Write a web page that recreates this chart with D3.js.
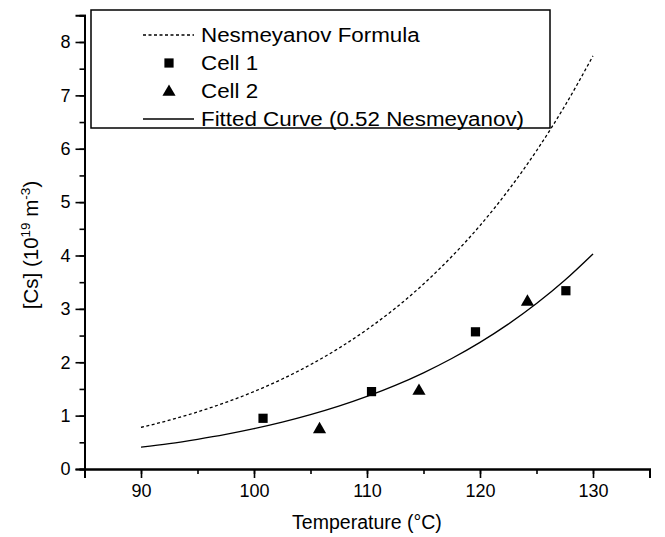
<!DOCTYPE html>
<html>
<head>
<meta charset="utf-8">
<script src="https://cdn.jsdelivr.net/npm/d3@7"></script>
<style>
  html, body { margin: 0; padding: 0; background: #fff; }
  svg { display: block; }
  text { font-family: "Liberation Sans", Arial, Helvetica, sans-serif; fill: #000; }
</style>
</head>
<body>
<svg id="chart" width="665" height="537"></svg>
<script>
// ---- data ----
const curveTemps   = [90, 92.5, 95, 97.5, 100, 102.5, 105, 107.5, 110, 112.5, 115, 117.5, 120, 122.5, 125, 127.5, 130];
const nesmeyanov   = [0.78, 0.914, 1.069, 1.247, 1.451, 1.686, 1.955, 2.262, 2.613, 3.011, 3.465, 3.980, 4.561, 5.220, 5.962, 6.800, 7.74];
const fittedCurve  = [0.41, 0.475, 0.556, 0.648, 0.755, 0.877, 1.017, 1.176, 1.359, 1.566, 1.802, 2.070, 2.372, 2.714, 3.100, 3.536, 4.03];
const cell1Temps   = [100.8, 110.4, 119.6, 127.6];
const cell1Values  = [0.95, 1.45, 2.57, 3.34];
const cell2Temps   = [105.8, 114.6, 124.2];
const cell2Values  = [0.76, 1.48, 3.15];
const xTicks       = [90, 100, 110, 120, 130];
const yTicks       = [0, 1, 2, 3, 4, 5, 6, 7, 8];
const legendLabels = ["Nesmeyanov Formula", "Cell 1", "Cell 2", "Fitted Curve (0.52 Nesmeyanov)"];

// ---- layout ----
const svg = d3.select("#chart");
const x = d3.scaleLinear().domain([85, 135]).range([84.5, 649.5]);
const y = d3.scaleLinear().domain([0, 8.5]).range([469, 15.3]);

// curves
const line = d3.line().x(d => x(d[0])).y(d => y(d[1])).curve(d3.curveMonotoneX);
svg.append("path")
  .datum(curveTemps.map((t, i) => [t, nesmeyanov[i]]))
  .attr("d", line).attr("fill", "none").attr("stroke", "#000")
  .attr("stroke-width", 1.3).attr("stroke-dasharray", "3,2.5");
svg.append("path")
  .datum(curveTemps.map((t, i) => [t, fittedCurve[i]]))
  .attr("d", line).attr("fill", "none").attr("stroke", "#000")
  .attr("stroke-width", 1.3);

// markers
const sq = d3.symbol().type(d3.symbolSquare).size(85);
const tri = d3.symbol().type(d3.symbolTriangle).size(75);
svg.append("g").selectAll("path").data(cell1Temps.map((t, i) => [t, cell1Values[i]]))
  .join("path").attr("d", sq)
  .attr("transform", d => `translate(${x(d[0])},${y(d[1])})`).attr("fill", "#000");
svg.append("g").selectAll("path").data(cell2Temps.map((t, i) => [t, cell2Values[i]]))
  .join("path").attr("d", tri)
  .attr("transform", d => `translate(${x(d[0])},${y(d[1]) + 1})`).attr("fill", "#000");

// axes
const xAxis = svg.append("g").attr("transform", `translate(0,${y(0)})`);
xAxis.call(d3.axisBottom(x).tickValues(d3.range(85, 135.1, 5)).tickSize(5).tickFormat(""));
xAxis.call(g => g.append("g").call(d3.axisBottom(x).tickValues(xTicks).tickSize(9).tickPadding(6)));
xAxis.selectAll(".domain").attr("stroke-width", 2).attr("stroke", "#000");
xAxis.selectAll(".tick line").attr("stroke-width", 1.6).attr("stroke", "#000");
xAxis.selectAll(".tick text").attr("font-size", 18).attr("font-family", "Liberation Sans, Arial, sans-serif");

const yAxis = svg.append("g").attr("transform", `translate(${x(85)},0)`);
yAxis.call(d3.axisLeft(y).tickValues(d3.range(0, 8.51, 0.5)).tickSize(5).tickFormat(""));
yAxis.call(g => g.append("g").call(d3.axisLeft(y).tickValues(yTicks).tickSize(9).tickPadding(5)));
yAxis.selectAll(".domain").attr("stroke-width", 2).attr("stroke", "#000");
yAxis.selectAll(".tick line").attr("stroke-width", 1.6).attr("stroke", "#000");
yAxis.selectAll(".tick text").attr("font-size", 18).attr("font-family", "Liberation Sans, Arial, sans-serif");

// axis titles
svg.append("text").attr("x", 367).attr("y", 529).attr("text-anchor", "middle")
  .attr("font-size", 19.5).text("Temperature (°C)");
const yt = svg.append("text").attr("transform", "translate(38,245) rotate(-90)")
  .attr("text-anchor", "middle").attr("font-size", 20.5);
yt.append("tspan").text("[Cs] (10");
yt.append("tspan").attr("font-size", 13.5).attr("dy", -8).text("19");
yt.append("tspan").attr("dy", 8).text(" m");
yt.append("tspan").attr("font-size", 13.5).attr("dy", -8).text("-3");
yt.append("tspan").attr("dy", 8).text(")");

// legend
const lg = svg.append("g");
lg.append("rect").attr("x", 91).attr("y", 10).attr("width", 459).attr("height", 118)
  .attr("fill", "#fff").attr("stroke", "#000").attr("stroke-width", 1.5);
const rowY = [35, 63, 91, 119];
lg.append("line").attr("x1", 143).attr("x2", 194).attr("y1", rowY[0]).attr("y2", rowY[0])
  .attr("stroke", "#000").attr("stroke-width", 1.3).attr("stroke-dasharray", "3,2.5");
lg.append("path").attr("d", sq).attr("transform", `translate(169,${rowY[1]})`).attr("fill", "#000");
lg.append("path").attr("d", tri).attr("transform", `translate(169,${rowY[2] + 1})`).attr("fill", "#000");
lg.append("line").attr("x1", 143).attr("x2", 194).attr("y1", rowY[3]).attr("y2", rowY[3])
  .attr("stroke", "#000").attr("stroke-width", 1.3);
lg.selectAll("text.lab").data(legendLabels).join("text").attr("class", "lab")
  .attr("transform", (d, i) => `translate(201,${rowY[i]}) scale(1.13,1.05)`)
  .attr("dy", "0.36em")
  .attr("font-size", 19.8).text(d => d);
</script>
</body>
</html>
